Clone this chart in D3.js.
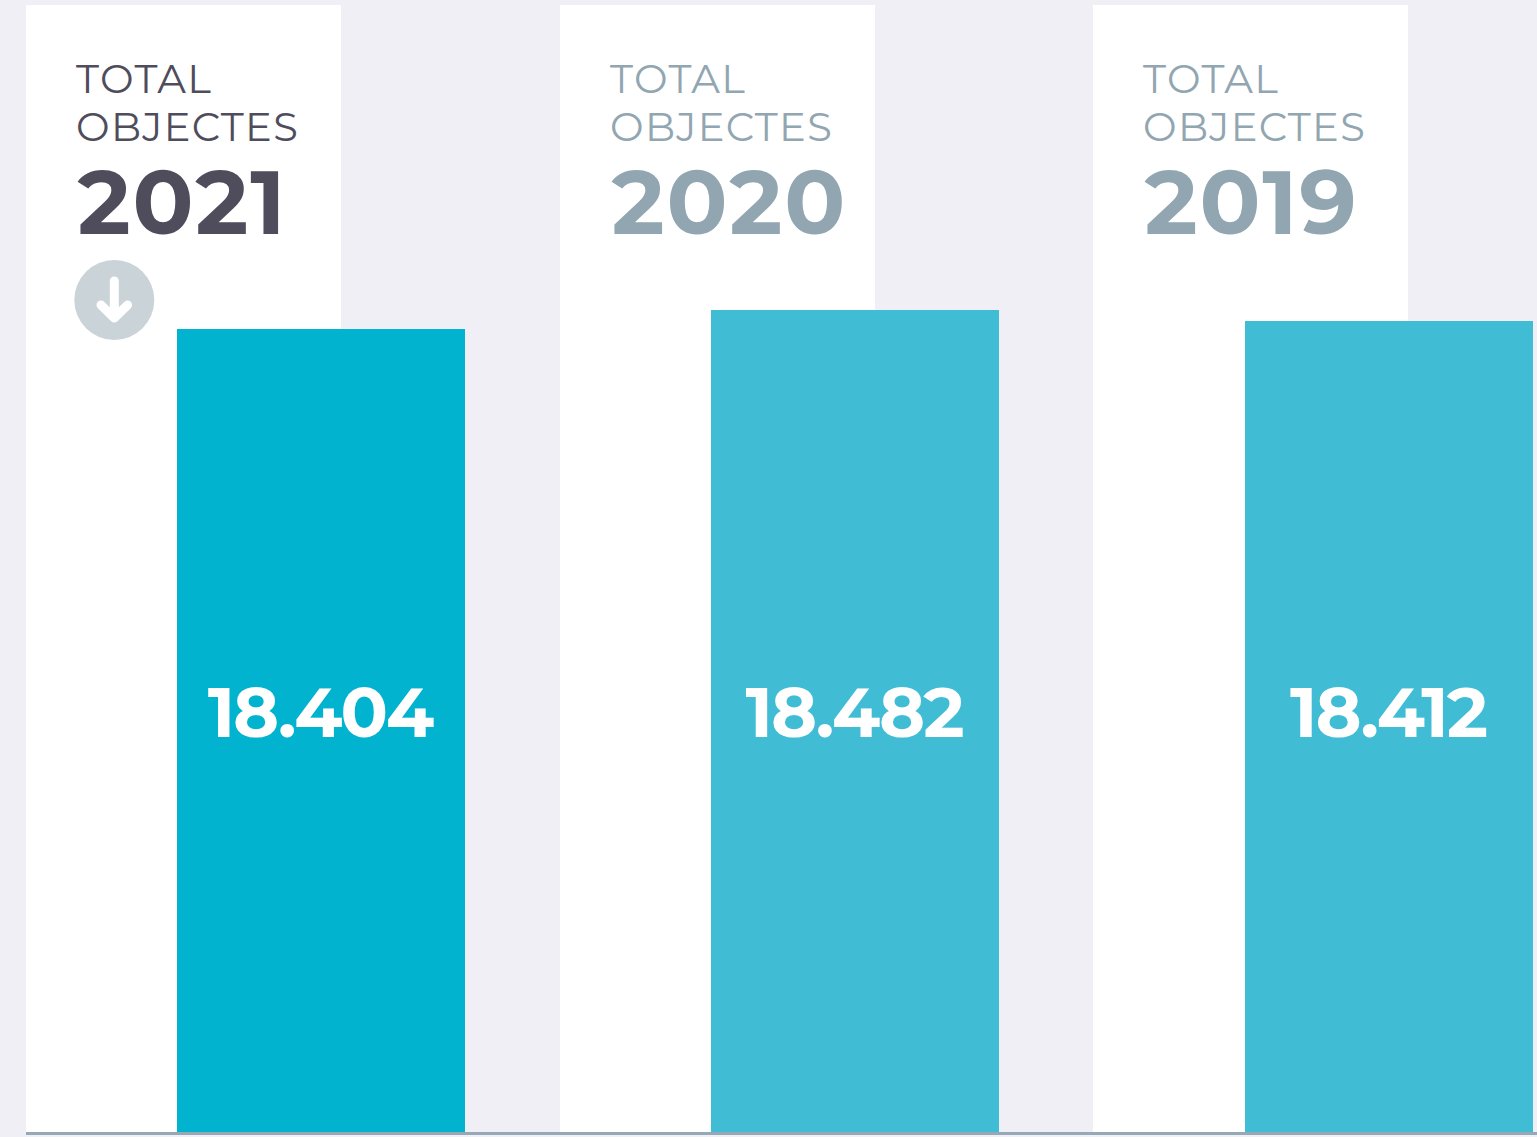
<!DOCTYPE html>
<html><head><meta charset="utf-8">
<script src="https://cdn.jsdelivr.net/npm/d3@7"></script>
<style>html,body{margin:0;padding:0;background:#f0eff6;overflow:hidden}svg{display:block}text{font-family:Montserrat,"Open Sans",Lato,sans-serif}</style>
</head><body><svg id="c" width="1537" height="1137"></svg>
<script>
const years = ["2021","2020","2019"];
const values = [18404,18482,18412];
const valueLabels = ["18.404","18.482","18.412"];
const barColors = ["#02b3d0","#40bdd5","#40bdd5"];
const textColors = ["#4f4d5c","#91a6b1","#91a6b1"];
const titleLines = ["TOTAL","OBJECTES"];

const svg = d3.select("#c");
const baseY = 1132;
// The published bars are not proportional to their values, so the value scale
// is piecewise: sorted values map to the bar tops measured in the picture.
const y = d3.scaleLinear().domain([18404,18412,18482]).range([329,321,310]);
const panelX = d3.scaleOrdinal().domain(years).range([26,560,1093]);
const barX = d3.scalePoint().domain(years).range([177,1245]);
const panelW = 315, barW = 288;

const rows = years.map((year,i)=>({year,value:values[i],label:valueLabels[i],bar:barColors[i],ink:textColors[i]}));

svg.selectAll("rect.panel").data(rows).join("rect").attr("class","panel")
  .attr("x",d=>panelX(d.year)).attr("y",5).attr("width",panelW).attr("height",baseY-5).attr("fill","#fff");
svg.selectAll("rect.bar").data(rows).join("rect").attr("class","bar")
  .attr("x",d=>barX(d.year)).attr("width",barW)
  .attr("y",d=>y(d.value)).attr("height",d=>baseY-y(d.value))
  .attr("fill",d=>d.bar);

rows.forEach(d=>{
  const x = panelX(d.year);
  titleLines.forEach((t,k)=>svg.append("text").attr("x",x+50).attr("y",93+k*48)
    .attr("font-size",40).attr("font-weight",400).attr("letter-spacing",1.35).attr("fill",d.ink).text(t));
  svg.append("text").attr("x",x+51.5).attr("y",234)
    .attr("font-size",90).attr("font-weight",700).attr("letter-spacing",1.9).attr("fill",d.ink).text(d.year);
  svg.append("text").attr("x",barX(d.year)+barW/2-1).attr("y",737).attr("text-anchor","middle")
    .attr("font-size",70).attr("font-weight",700).attr("letter-spacing",-2).attr("fill","#fff").text(d.label);
});
svg.append("line").attr("x1",26).attr("x2",1537).attr("y1",baseY+1.5).attr("y2",baseY+1.5).attr("stroke","#96a9b6").attr("stroke-width",3);
svg.append("circle").attr("cx",114.3).attr("cy",300).attr("r",40).attr("fill","#c9d3d8");
svg.append("path").attr("d","M114.3 281V318M101 305L114.3 318L127.6 305").attr("fill","none").attr("stroke","#fff").attr("stroke-width",9).attr("stroke-linecap","round").attr("stroke-linejoin","round");
</script></body></html>
